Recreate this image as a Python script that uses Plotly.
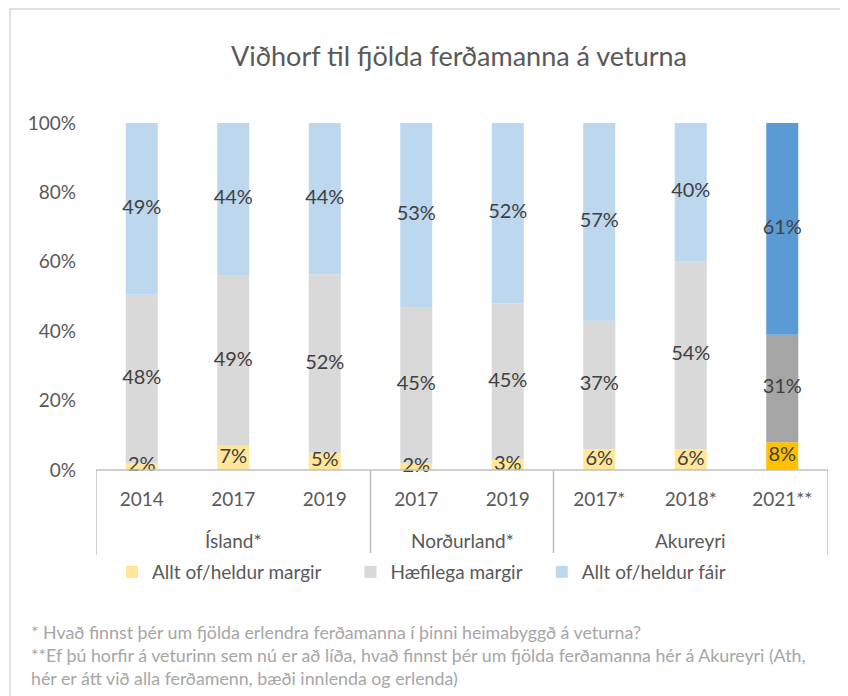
import plotly.graph_objects as go

groups = ["Ísland*", "Ísland*", "Ísland*", "Norðurland*", "Norðurland*", "Akureyri", "Akureyri", "Akureyri"]
years = ["2014", "2017", "2019", "2017", "2019", "2017*", "2018*", "2021**"]

margir = [2, 7, 5, 2, 3, 6, 6, 8]
haefilega = [48, 49, 52, 45, 45, 37, 54, 31]
fair = [49, 44, 44, 53, 52, 57, 40, 61]

series_names = ["Allt of/heldur margir", "Hæfilega margir", "Allt of/heldur fáir"]
light_colors = ["#FFE699", "#D9D9D9", "#BDD7EE"]
dark_colors = ["#FFC000", "#A5A5A5", "#5B9BD5"]

FONT = "Lato, 'Open Sans', sans-serif"
TXT = "#595959"
LBL = "#404040"
LINE = "#BFBFBF"

OFF = 8  # page body margin offset
W, H = 848, 696
L, T = 96 - OFF, 123 - OFF
R = W - (828 - OFF)
B = H - (470 - OFF)
PW, PH = W - L - R, H - T - B

xs = list(range(len(years)))
series = [margir, haefilega, fair]
totals = [sum(v) for v in zip(*series)]

fig = go.Figure()
base = [0.0] * len(xs)
label_x, label_y, label_t = [], [], []
pad = ["\u00a0" * 5, "\u00a0" * 3, ""]
for name, vals, lc, dc, p in zip(series_names, series, light_colors, dark_colors, pad):
    norm = [v / t * 100 for v, t in zip(vals, totals)]
    colors = [lc] * (len(vals) - 1) + [dc]
    fig.add_trace(go.Bar(
        x=xs, y=norm, base=base, name=name + p, width=0.35,
        marker=dict(color=colors, line=dict(width=0)),
        hoverinfo="skip",
    ))
    for i, (b, n, v) in enumerate(zip(base, norm, vals)):
        label_x.append(i)
        label_y.append(b + n / 2)
        label_t.append(f"{v}%")
    base = [b + n for b, n in zip(base, norm)]

fig.add_trace(go.Scatter(
    x=label_x, y=label_y, text=label_t, mode="text", showlegend=False,
    textfont=dict(family=FONT, size=20, color=LBL), cliponaxis=False, hoverinfo="skip",
))

# group boundaries and labels
bounds = [-0.5]
for i in range(1, len(groups)):
    if groups[i] != groups[i - 1]:
        bounds.append(i - 0.5)
bounds.append(len(groups) - 0.5)


def y_of(py):  # screen pixel -> paper y
    return (H - B - (py - OFF)) / PH


def x_of(px):  # screen pixel -> paper x
    return (px - OFF - L) / PW


for bx in bounds:
    fig.add_shape(type="line", xref="x", yref="paper", x0=bx, x1=bx,
                  y0=0, y1=y_of(555), line=dict(color=LINE, width=1.5))
fig.add_shape(type="line", xref="x", yref="paper", x0=bounds[0], x1=bounds[-1],
              y0=0, y1=0, line=dict(color=LINE, width=1.5))

for g0, g1 in zip(bounds[:-1], bounds[1:]):
    name = groups[int(g0 + 0.5)]
    fig.add_annotation(text=name, xref="x", yref="paper", x=(g0 + g1) / 2, y=y_of(540),
                       showarrow=False, yanchor="middle",
                       font=dict(family=FONT, size=19, color=TXT))

fig.update_layout(
    barmode="overlay",
    width=W, height=H,
    margin=dict(l=L, r=R, t=T, b=B, autoexpand=False),
    paper_bgcolor="white", plot_bgcolor="white",
    font=dict(family=FONT, color=TXT),
    title=dict(text="Viðhorf til fjölda ferðamanna á veturna", x=(459 - OFF) / W, xanchor="center",
               y=1 - (57 - OFF) / H, yanchor="middle",
               font=dict(family=FONT, size=27, color=TXT)),
    legend=dict(orientation="h", x=x_of(112), xanchor="left", y=y_of(572), yanchor="middle",
                font=dict(family=FONT, size=19, color=TXT), traceorder="normal",
                itemwidth=30),
    showlegend=True,
)
fig.update_xaxes(
    range=[-0.5, len(years) - 0.5], tickvals=xs, ticktext=years,
    showline=False, showgrid=False, zeroline=False, ticks="",
    tickfont=dict(family=FONT, size=19, color=TXT), ticklabelstandoff=16,
    automargin=False,
)
fig.update_yaxes(
    range=[0, 100], tickvals=[0, 20, 40, 60, 80, 100],
    ticktext=["0%", "20%", "40%", "60%", "80%", "100%"],
    showgrid=False, zeroline=False, showline=False,
    tickfont=dict(family=FONT, size=19, color=TXT), ticklabelstandoff=19,
    automargin=False,
)

fig.add_shape(type="rect", xref="paper", yref="paper",
              x0=x_of(10), x1=x_of(880),
              y0=y_of(730), y1=y_of(9),
              line=dict(color="#D9D9D9", width=1.5), fillcolor="rgba(0,0,0,0)", layer="below")

footnote = ("* Hvað finnst þér um fjölda erlendra ferðamanna í þinni heimabyggð á veturna?<br>"
            "**Ef þú horfir á veturinn sem nú er að líða, hvað finnst þér um fjölda ferðamanna hér á Akureyri (Ath,<br>"
            "hér er átt við alla ferðamenn, bæði innlenda og erlenda)")
fig.add_annotation(text=footnote, xref="paper", yref="paper",
                   x=x_of(29), y=y_of(619), xanchor="left", yanchor="top",
                   align="left", showarrow=False,
                   font=dict(family=FONT, size=17.8, color="#A6A6A6"))

fig.write_html("out.html")
